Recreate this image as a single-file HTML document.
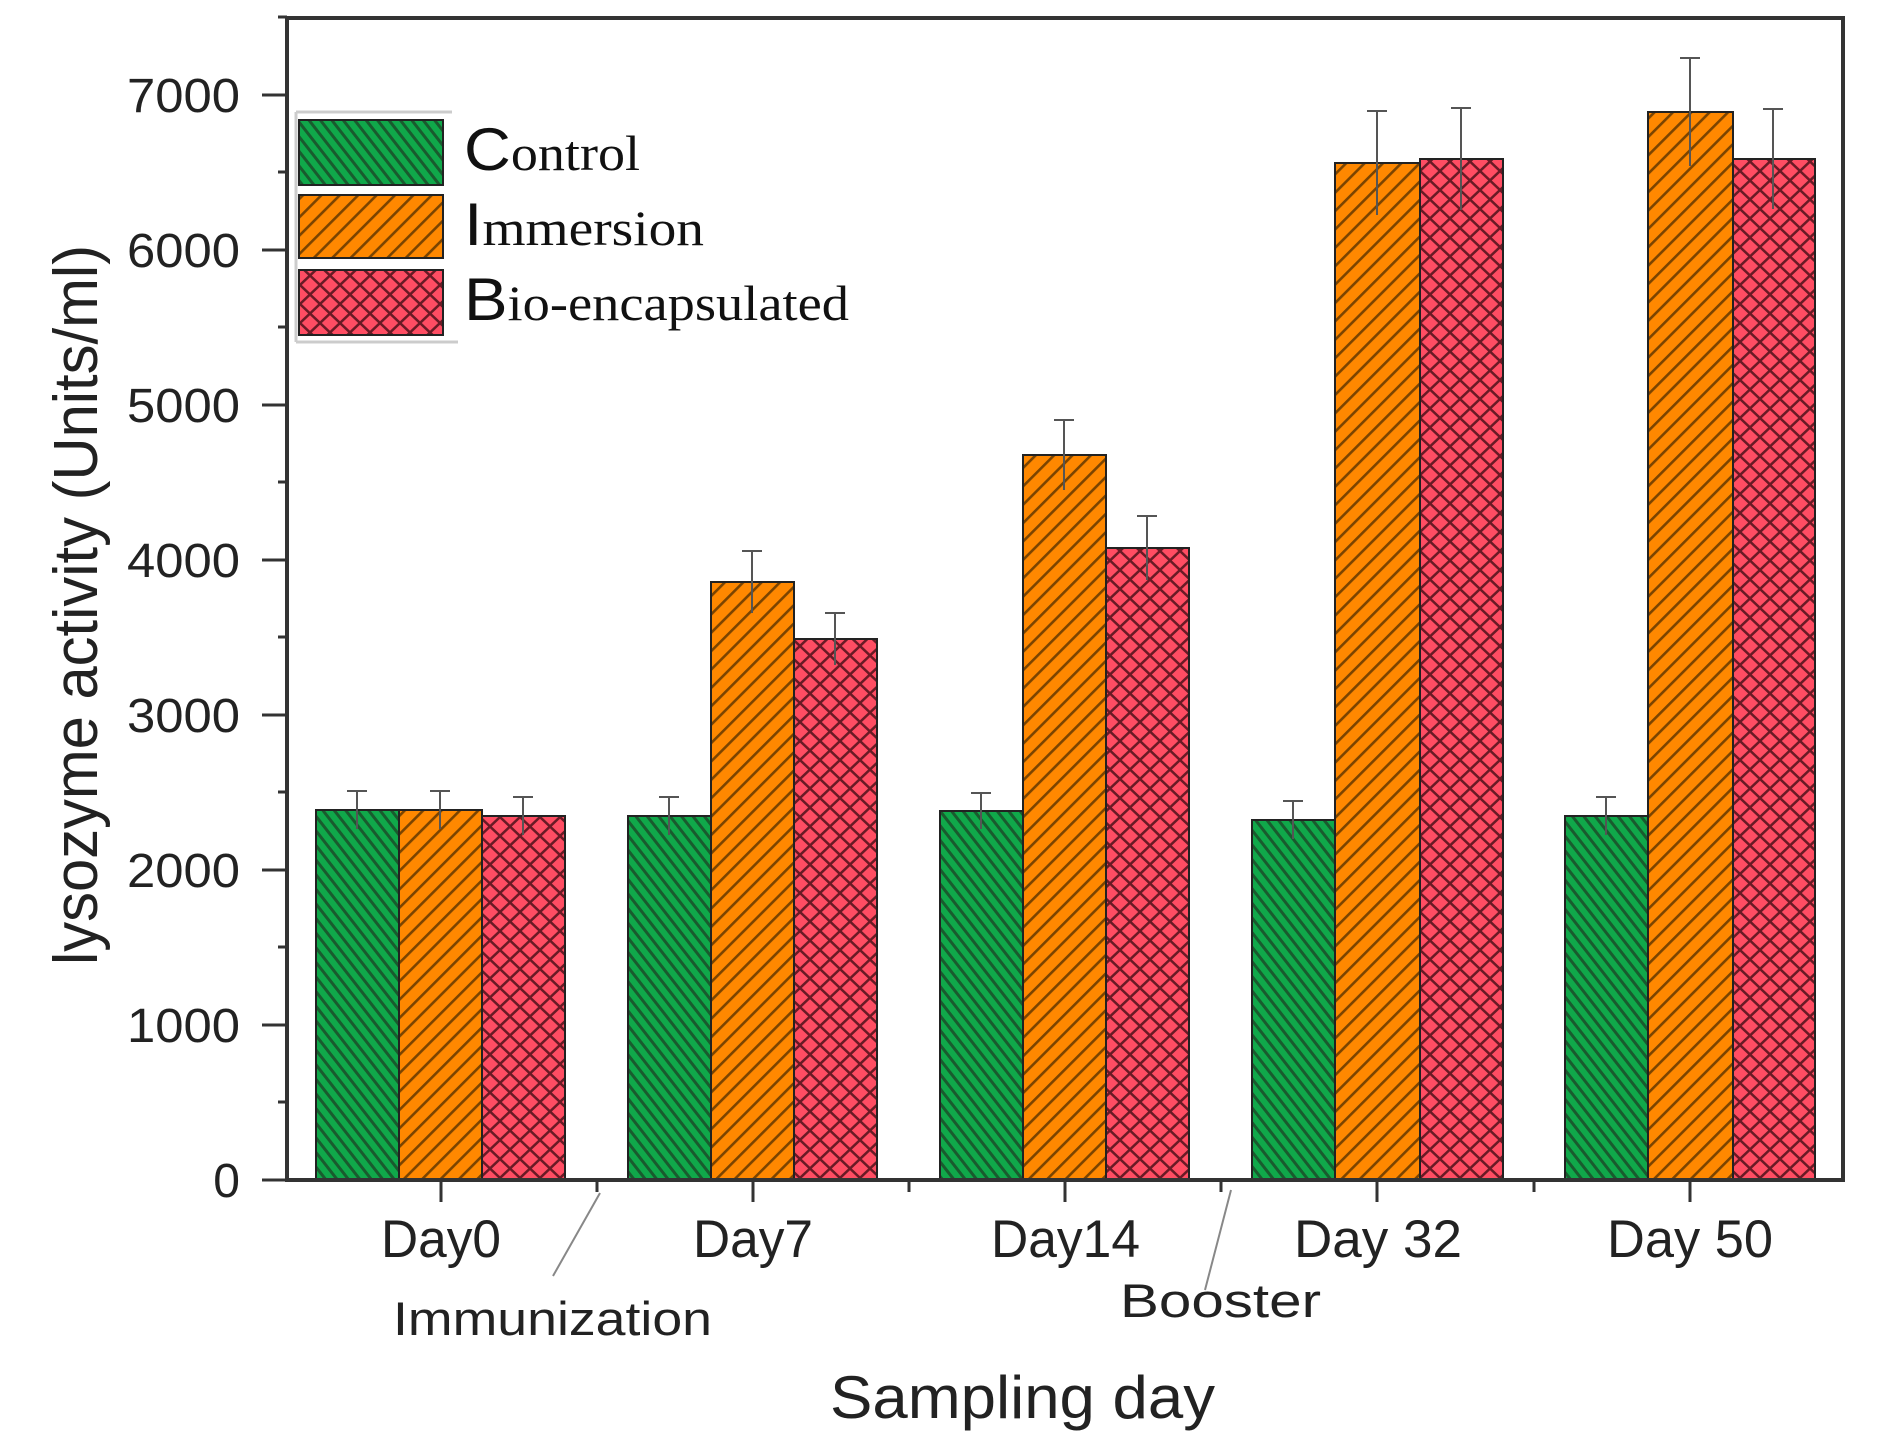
<!DOCTYPE html>
<html><head><meta charset="utf-8"><style>html,body{margin:0;padding:0;background:#fff}svg{display:block}</style></head>
<body>
<svg width="1880" height="1450" viewBox="0 0 1880 1450" xmlns="http://www.w3.org/2000/svg">
<defs>
<pattern id="pg" patternUnits="userSpaceOnUse" width="9" height="9" patternTransform="rotate(52)">
<rect width="9" height="9" fill="#10a84a"/><rect width="9" height="3" fill="#1d3a22" opacity="0.7"/>
</pattern>
<pattern id="po" patternUnits="userSpaceOnUse" width="13" height="13" patternTransform="rotate(-45)">
<rect width="13" height="13" fill="#ff8800"/><rect width="13" height="2.6" fill="#5a3300" opacity="0.8"/>
</pattern>
<pattern id="pr" patternUnits="userSpaceOnUse" width="20" height="19">
<rect width="20" height="19" fill="#ff4d63"/>
<path d="M0 0L20 19M20 0L0 19" stroke="#6a1a25" stroke-width="2.5"/>
</pattern>
</defs>
<g font-family="Liberation Sans, Arial, sans-serif" fill="#222">
<path d="M287 18H1843V1180" fill="none" stroke="#333" stroke-width="4"/>
<g stroke="#222" stroke-width="2">
<rect x="316" y="810" width="83" height="370" fill="url(#pg)"/>
<rect x="399" y="810" width="83" height="370" fill="url(#po)"/>
<rect x="482" y="816" width="83" height="364" fill="url(#pr)"/>
<rect x="628" y="816" width="83" height="364" fill="url(#pg)"/>
<rect x="711" y="582" width="83" height="598" fill="url(#po)"/>
<rect x="794" y="639" width="83" height="541" fill="url(#pr)"/>
<rect x="940" y="811" width="83" height="369" fill="url(#pg)"/>
<rect x="1023" y="455" width="83" height="725" fill="url(#po)"/>
<rect x="1106" y="548" width="83" height="632" fill="url(#pr)"/>
<rect x="1252" y="820" width="83" height="360" fill="url(#pg)"/>
<rect x="1335" y="163" width="85" height="1017" fill="url(#po)"/>
<rect x="1420" y="159" width="83" height="1021" fill="url(#pr)"/>
<rect x="1565" y="816" width="83" height="364" fill="url(#pg)"/>
<rect x="1648" y="112" width="85" height="1068" fill="url(#po)"/>
<rect x="1733" y="159" width="82" height="1021" fill="url(#pr)"/>
</g>
<g stroke="#555" stroke-width="2" fill="none">
<path d="M357 791V829M347 791H367 M440 791V829M430 791H450 M523 797V835M513 797H533"/>
<path d="M669 797V835M659 797H679 M752 551V613M742 551H762 M835 613V665M825 613H845"/>
<path d="M981 793V829M971 793H991 M1064 420V490M1054 420H1074 M1147 516V580M1137 516H1157"/>
<path d="M1293 801V839M1283 801H1303 M1377 111V215M1367 111H1387 M1461 108V210M1451 108H1471"/>
<path d="M1606 797V835M1596 797H1616 M1690 58V166M1680 58H1700 M1773 109V209M1763 109H1783"/>
</g>
<path d="M287 18V1182M285 1180H1845" stroke="#333" stroke-width="4" fill="none"/>
<g stroke="#333" stroke-width="3">
<path d="M262 1180H287M262 1025H287M262 870H287M262 715H287M262 560H287M262 405H287M262 250H287M262 95H287"/>
<path d="M278 1102H287M278 947H287M278 792H287M278 637H287M278 482H287M278 327H287M278 172H287M278 17H287"/>
<path d="M441 1180V1202M753 1180V1202M1065 1180V1202M1377 1180V1202M1690 1180V1202"/>
<path d="M597 1180V1192M909 1180V1192M1221 1180V1192M1534 1180V1192"/>
</g>
<g font-size="48" text-anchor="end">
<text x="240" y="1197">0</text>
<text x="240" y="1042" textLength="113" lengthAdjust="spacingAndGlyphs">1000</text>
<text x="240" y="887" textLength="113" lengthAdjust="spacingAndGlyphs">2000</text>
<text x="240" y="732" textLength="113" lengthAdjust="spacingAndGlyphs">3000</text>
<text x="240" y="577" textLength="113" lengthAdjust="spacingAndGlyphs">4000</text>
<text x="240" y="422" textLength="113" lengthAdjust="spacingAndGlyphs">5000</text>
<text x="240" y="267" textLength="113" lengthAdjust="spacingAndGlyphs">6000</text>
<text x="240" y="112" textLength="113" lengthAdjust="spacingAndGlyphs">7000</text>
</g>
<g font-size="53">
<text x="381" y="1257" textLength="120" lengthAdjust="spacingAndGlyphs">Day0</text>
<text x="693" y="1257" textLength="120" lengthAdjust="spacingAndGlyphs">Day7</text>
<text x="991" y="1257" textLength="149" lengthAdjust="spacingAndGlyphs">Day14</text>
<text x="1294" y="1257" textLength="168" lengthAdjust="spacingAndGlyphs">Day 32</text>
<text x="1607" y="1257" textLength="166" lengthAdjust="spacingAndGlyphs">Day 50</text>
</g>
<path d="M600 1193L553 1276M1231 1190L1205 1290" stroke="#888" stroke-width="2"/>
<text x="393" y="1335" font-size="47" textLength="319" lengthAdjust="spacingAndGlyphs">Immunization</text>
<text x="1120" y="1317" font-size="47" textLength="201" lengthAdjust="spacingAndGlyphs">Booster</text>
<text x="830" y="1418" font-size="60" textLength="385" lengthAdjust="spacingAndGlyphs">Sampling day</text>
<text transform="translate(97,965) rotate(-90)" font-size="62" textLength="720" lengthAdjust="spacingAndGlyphs">lysozyme activity (Units/ml)</text>
<path d="M296 112H452M296 342H458M296 112V342" stroke="#ccc" stroke-width="3" fill="none"/>
<g stroke="#222" stroke-width="2">
<rect x="299" y="120" width="144" height="65" fill="url(#pg)"/>
<rect x="299" y="195" width="144" height="63" fill="url(#po)"/>
<rect x="299" y="270" width="144" height="65" fill="url(#pr)"/>
</g>
<g font-family="Liberation Serif, Times New Roman, serif" font-size="50" fill="#111">
<text x="464" y="170" textLength="176" lengthAdjust="spacingAndGlyphs"><tspan font-family="Liberation Sans, sans-serif" font-size="60">C</tspan>ontrol</text>
<text x="464" y="245" textLength="240" lengthAdjust="spacingAndGlyphs"><tspan font-family="Liberation Sans, sans-serif" font-size="60">I</tspan>mmersion</text>
<text x="464" y="320" textLength="385" lengthAdjust="spacingAndGlyphs"><tspan font-family="Liberation Sans, sans-serif" font-size="60">B</tspan>io-encapsulated</text>
</g>
</g>
</svg>
</body></html>
